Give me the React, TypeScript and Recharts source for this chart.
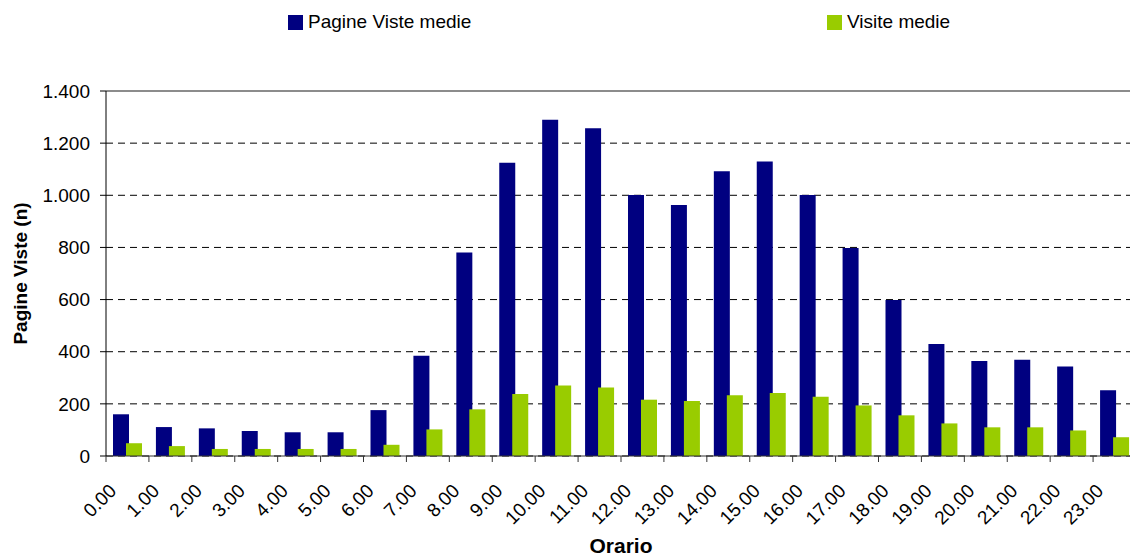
import React from "react";
import {
  BarChart,
  Bar,
  XAxis,
  YAxis,
  CartesianGrid,
  ReferenceLine,
} from "recharts";

// Hourly averages: page views and visits per hour of the day
const hours = [
  "0.00", "1.00", "2.00", "3.00", "4.00", "5.00", "6.00", "7.00",
  "8.00", "9.00", "10.00", "11.00", "12.00", "13.00", "14.00", "15.00",
  "16.00", "17.00", "18.00", "19.00", "20.00", "21.00", "22.00", "23.00",
];

const pagineVisteMedie = [
  160, 111, 106, 96, 91, 91, 176, 385, 781, 1125, 1290, 1257,
  1001, 963, 1092, 1130, 1001, 798, 598, 430, 364, 369, 343, 252,
];

const visiteMedie = [
  49, 38, 27, 27, 27, 27, 43, 102, 179, 238, 270, 263,
  216, 211, 233, 242, 227, 194, 156, 125, 110, 110, 98, 72,
];

const yTicks = [0, 200, 400, 600, 800, 1000, 1200, 1400];

const seriesNames = ["Pagine Viste medie", "Visite medie"];

const data = hours.map((h, i) => ({
  ora: h,
  pagine: pagineVisteMedie[i],
  visite: visiteMedie[i],
}));

const WIDTH = 1130;
const HEIGHT = 557;
const Y_AXIS_W = 106;
const TOP = 91;
const RIGHT = -6; // plot area runs slightly past the right edge
const X_AXIS_H = 101;
const PLOT_W = WIDTH - Y_AXIS_W - RIGHT;
const BAND = PLOT_W / hours.length;

const FONT = "'Liberation Sans', Arial, sans-serif";
const NAVY = "#000080";
const LIME = "#99CC00";

const fmt = (v: number) => v.toLocaleString("it-IT");

// Category labels rotated 45°, with tick marks on the category boundaries
const XTick = (props: any) => {
  const { x, y, payload, index } = props;
  const left = x - BAND / 2;
  const axisY = y - 8;
  const lx = x - 10;
  const ly = axisY + 36;
  return (
    <g>
      <line x1={left} y1={axisY} x2={left} y2={axisY + 6} stroke="#333" strokeWidth={1} />
      {index === hours.length - 1 && (
        <line x1={x + BAND / 2} y1={axisY} x2={x + BAND / 2} y2={axisY + 6} stroke="#333" strokeWidth={1} />
      )}
      <text
        x={lx}
        y={ly}
        textAnchor="end"
        transform={`rotate(-45, ${lx}, ${ly})`}
        fontFamily={FONT}
        fontSize={19}
        fill="#000"
      >
        {payload.value}
      </text>
    </g>
  );
};

const legendItems = [
  { name: seriesNames[0], color: NAVY, left: 288 },
  { name: seriesNames[1], color: LIME, left: 827 },
];

const LegendBar = () => (
  <div style={{ position: "absolute", left: 0, top: 0, width: WIDTH, height: 40, fontFamily: FONT, fontSize: 19, color: "#000" }}>
    {legendItems.map((it) => (
      <div key={it.name} style={{ position: "absolute", left: it.left, top: 11, display: "flex", alignItems: "center", lineHeight: "22px" }}>
        <span style={{ width: 15, height: 15, background: it.color, display: "inline-block", marginRight: 5 }} />
        <span>{it.name}</span>
      </div>
    ))}
  </div>
);

export default function App() {
  return (
    <div style={{ position: "absolute", left: 0, top: 0, width: WIDTH, height: HEIGHT, background: "#fff", overflow: "hidden" }}>
      <BarChart
        width={WIDTH}
        height={HEIGHT}
        data={data}
        margin={{ top: TOP, right: RIGHT, bottom: 0, left: 0 }}
        barSize={16}
        barGap={-3}
      >
        <CartesianGrid
          vertical={false}
          stroke="#000"
          strokeDasharray="7 5"
        />
        <ReferenceLine y={1400} stroke="#8c8c8c" strokeWidth={2} />
        <XAxis
          dataKey="ora"
          height={X_AXIS_H}
          interval={0}
          tickLine={false}
          axisLine={{ stroke: "#333" }}
          tick={<XTick />}
          label={{
            value: "Orario",
            position: "insideBottom",
            offset: 4,
            style: { fontFamily: FONT, fontSize: 21, fontWeight: "bold", fill: "#000" },
          }}
        />
        <YAxis
          width={Y_AXIS_W}
          domain={[0, 1400]}
          ticks={yTicks}
          interval={0}
          tickFormatter={fmt}
          tickSize={6}
          tickMargin={10}
          axisLine={{ stroke: "#000" }}
          tickLine={{ stroke: "#000" }}
          tick={{ fontFamily: FONT, fontSize: 19, fill: "#000" }}
          label={{
            value: "Pagine Viste (n)",
            angle: -90,
            position: "insideLeft",
            offset: 20,
            style: { fontFamily: FONT, fontSize: 19, fontWeight: "bold", fill: "#000", textAnchor: "middle" },
          }}
        />
        <Bar dataKey="pagine" name={seriesNames[0]} fill={NAVY} isAnimationActive={false} />
        <Bar dataKey="visite" name={seriesNames[1]} fill={LIME} isAnimationActive={false} />
      </BarChart>
      <LegendBar />
    </div>
  );
}
